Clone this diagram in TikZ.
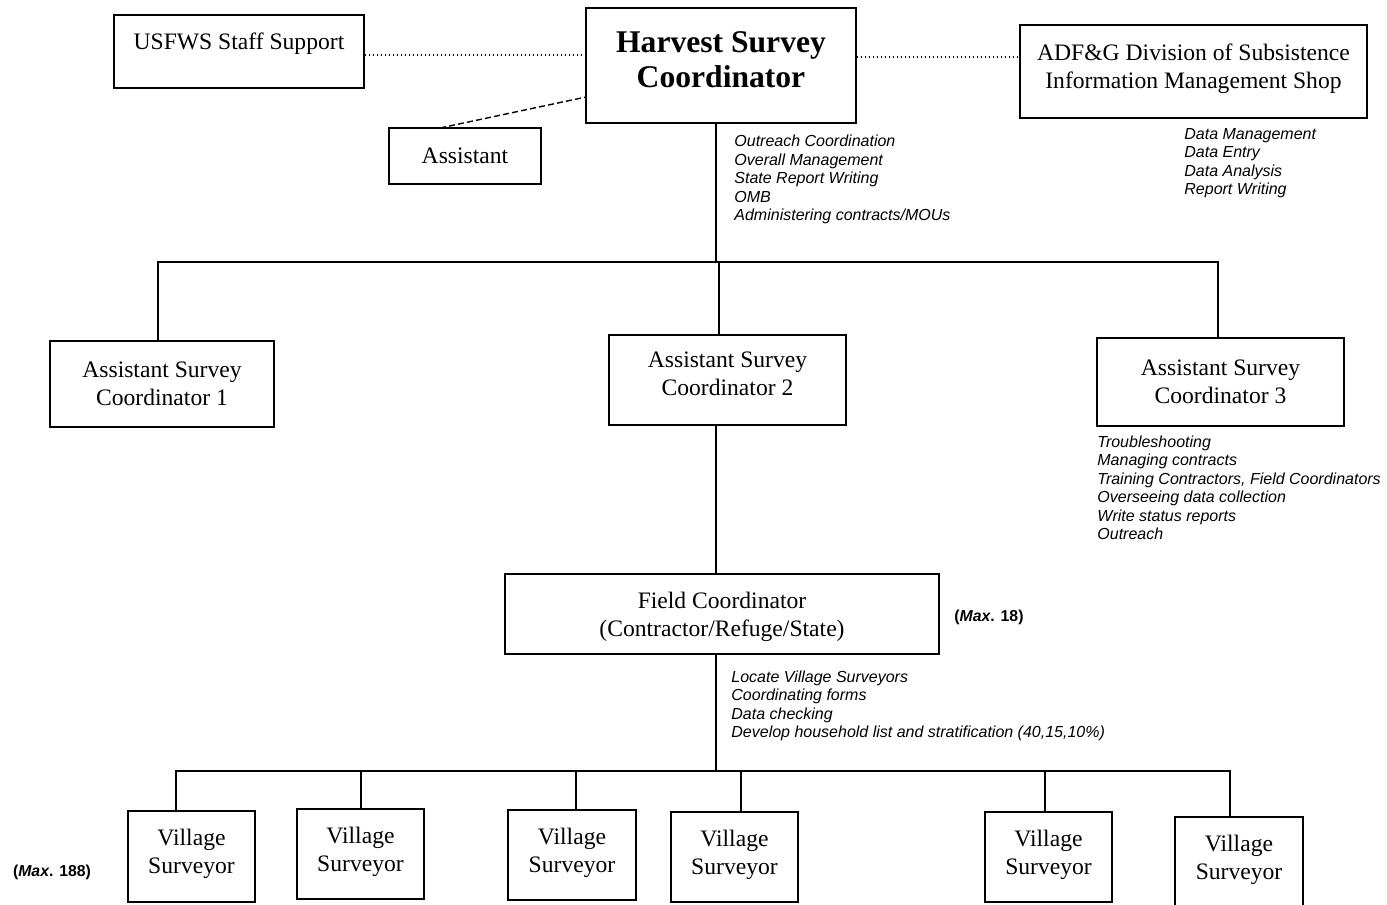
\documentclass[tikz,border=0pt]{standalone}
\usepackage{fontspec}
\setmainfont{Liberation Serif}
\newfontfamily\notefont{Liberation Sans}
\tikzset{
  box/.style={draw, line width=1pt, align=center, inner sep=0pt,
    font=\fontsize{11.8}{14}\selectfont},
  title/.style={box, font=\fontsize{15.8}{17.5}\selectfont\bfseries},
  village/.style={box, text depth=5pt},
  conn/.style={line width=0.6pt},
  dotline/.style={line width=0.8pt, dash pattern=on 0.7pt off 1.3pt},
  dashline/.style={line width=0.7pt, dash pattern=on 3pt off 1.6pt},
  notes/.style={anchor=north west, align=left, inner sep=0pt,
    font=\notefont\itshape\fontsize{8}{9.25}\selectfont},
  maxlbl/.style={inner sep=0pt, font=\notefont\bfseries\fontsize{7.9}{9}\selectfont}
}
\begin{document}
\begin{tikzpicture}[x=0.5pt,y=-0.5pt]
\useasboundingbox (0,0) rectangle (1387,905);
\clip (0,0) rectangle (1387,905);
% top row
\node[box, text depth=10pt, minimum width=125pt, minimum height=36.5pt] (usfws) at (239,51.5) {USFWS Staff Support};
\node[title, text depth=6pt, minimum width=135pt, minimum height=57.5pt] (hsc) at (721,65.5) {Harvest Survey\\Coordinator};
\node[box, text depth=5.6pt, minimum width=173.5pt, minimum height=46.5pt] (adfg) at (1193.5,71.5) {ADF\&G Division of Subsistence\\Information Management Shop};
\node[box, minimum width=76pt, minimum height=28pt] (asst) at (465,156) {Assistant};
% top links
\draw[dotline] (usfws.east |- 0,55) coordinate (uE) -- (hsc.west |- uE);
\draw[dotline] (hsc.east |- 0,57) coordinate (hE) -- (adfg.west |- hE);
\coordinate (dA) at (440,128);
\coordinate (dH) at (586,97);
\draw[dashline] (dA) -- (dH);
% notes
\node[notes] (n1) at (734,135) {Outreach Coordination\\Overall Management\\State Report Writing\\OMB\\Administering contracts/MOUs};
\node[notes] (n2) at (1184,128) {Data Management\\Data Entry\\Data Analysis\\Report Writing};
% second level
\node[box, minimum width=112pt, minimum height=43pt] (asc1) at (162,384) {Assistant Survey\\Coordinator 1};
\node[box, text depth=6pt, minimum width=118.5pt, minimum height=45pt] (asc2) at (727.5,380) {Assistant Survey\\Coordinator 2};
\node[box, minimum width=123.5pt, minimum height=44pt] (asc3) at (1220.5,382) {Assistant Survey\\Coordinator 3};
\coordinate (bus1) at (716,262);
\coordinate (d1) at (158,262);
\coordinate (d2) at (719,262);
\coordinate (d3) at (1218,262);
\draw[conn] (hsc.south -| bus1) -- (bus1);
\draw[conn] (d1 |- asc1.north) -- (d1) -- (d3) -- (d3 |- asc3.north);
\draw[conn] (d2) -- (d2 |- asc2.north);
\node[notes] (n3) at (1097,435) {Troubleshooting\\Managing contracts\\Training Contractors, Field Coordinators\\Overseeing data collection\\Write status reports\\Outreach};
% field coordinator
\node[box, text depth=0pt, minimum width=217pt, minimum height=40pt] (fc) at (722,614) {Field Coordinator\\(Contractor/Refuge/State)};
\coordinate (fx) at (716,500);
\draw[conn] (fx |- asc2.south) -- (fx |- fc.north);
\node[maxlbl] (m18) at (989,617) {(\textit{Max}. 18)};
\node[notes] (n4) at (731,670) {Locate Village Surveyors\\Coordinating forms\\Data checking\\Develop household list and stratification (40,15,10\%)};
% village surveyors
\node[village, minimum width=63.5pt, minimum height=45.5pt] (v1) at (191.5,856.5) {Village\\Surveyor};
\node[village, minimum width=63.5pt, minimum height=45pt] (v2) at (360.5,854) {Village\\Surveyor};
\node[village, minimum width=64pt, minimum height=45pt] (v3) at (572,855) {Village\\Surveyor};
\node[village, minimum width=63.5pt, minimum height=45pt] (v4) at (734.5,857) {Village\\Surveyor};
\node[village, minimum width=63.5pt, minimum height=45pt] (v5) at (1048.5,857) {Village\\Surveyor};
\node[village, text depth=5pt, minimum width=64pt, minimum height=45pt] (v6) at (1239,862) {Village\\Surveyor};
\coordinate (bus2) at (716,771);
\coordinate (e1) at (176,771);
\coordinate (e2) at (361,771);
\coordinate (e3) at (576,771);
\coordinate (e4) at (741,771);
\coordinate (e5) at (1045,771);
\coordinate (e6) at (1230,771);
\draw[conn] (fc.south -| bus2) -- (bus2);
\draw[conn] (e1 |- v1.north) -- (e1) -- (e6) -- (e6 |- v6.north);
\draw[conn] (e2) -- (e2 |- v2.north);
\draw[conn] (e3) -- (e3 |- v3.north);
\draw[conn] (e4) -- (e4 |- v4.north);
\draw[conn] (e5) -- (e5 |- v5.north);
\node[maxlbl] (m188) at (52,872) {(\textit{Max}. 188)};
\end{tikzpicture}
\end{document}
